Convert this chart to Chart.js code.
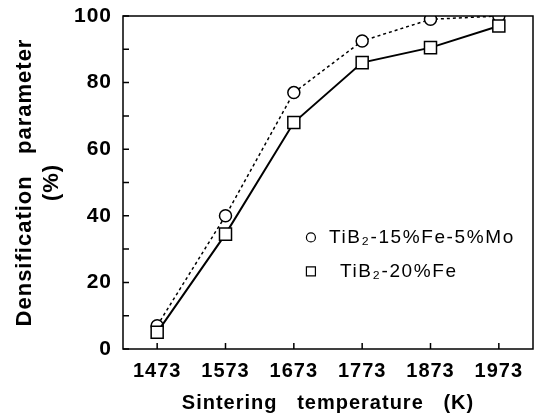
<!DOCTYPE html>
<html>
<head>
<meta charset="utf-8">
<script src="https://cdn.jsdelivr.net/npm/chart.js@4.4.1/dist/chart.umd.min.js"></script>
<style>
  html, body { margin: 0; padding: 0; background: #fff; }
  #wrap { width: 538px; height: 415px; }
</style>
</head>
<body>
<div id="wrap"><canvas id="myChart"></canvas></div>
<script>
// sintering temperature (K)
var temperatures = ['1473', '1573', '1673', '1773', '1873', '1973'];
// densification parameter (%)
var feMo = [7, 40, 77, 92.5, 99, 100];
var fe = [5, 34.5, 68, 86, 90.5, 97];
var legendLabels = ['TiB\u2082-15%Fe-5%Mo', 'TiB\u2082-20%Fe'];

var ctx = document.getElementById('myChart').getContext('2d');
var FONT = "'Liberation Sans', Arial, sans-serif";

// the old plot has rather wide lettering
var spacingPlugin = {
  id: 'spacing',
  beforeDraw: function(chart) { chart.ctx.letterSpacing = '1px'; }
};

// frame, inward ticks and the little legend inside the plot
var framePlugin = {
  id: 'frame',
  afterDatasetsDraw: function(chart) {
    var c = chart.ctx, a = chart.chartArea;
    var xs = chart.scales.x, ys = chart.scales.y;
    c.save();
    c.strokeStyle = '#000';
    c.lineWidth = 1.5;
    c.strokeRect(a.left, a.top, a.right - a.left, a.bottom - a.top);
    c.beginPath();
    ys.ticks.forEach(function(t) {
      var py = ys.getPixelForValue(t.value);
      c.moveTo(a.left, py); c.lineTo(a.left + 6, py);
    });
    xs.ticks.forEach(function(t, i) {
      var px = xs.getPixelForTick(i);
      c.moveTo(px, a.bottom); c.lineTo(px, a.bottom - 6);
    });
    c.stroke();

    // legend
    var lx = xs.getPixelForValue(2.25), ly = ys.getPixelForValue(33.5);
    c.font = '19px ' + FONT;
    c.letterSpacing = '1.6px';
    c.fillStyle = '#000';
    c.textBaseline = 'middle';
    chart.data.datasets.forEach(function(ds, i) {
      var y = ly + i * 34;
      c.lineWidth = 1.2;
      c.beginPath();
      if (ds.pointStyle === 'circle') {
        c.arc(lx, y, 4.5, 0, Math.PI * 2);
      } else {
        c.rect(lx - 4.5, y - 4.5, 9, 9);
      }
      c.stroke();
      c.fillText(ds.label, lx + (i === 0 ? 18 : 29), y);
    });
    c.restore();
  }
};

new Chart(ctx, {
  type: 'line',
  data: {
    labels: temperatures,
    datasets: [
      {
        label: legendLabels[0],
        data: feMo,
        borderColor: '#000',
        borderWidth: 1.5,
        borderDash: [3, 3],
        pointStyle: 'circle',
        pointRadius: 6,
        pointBorderWidth: 1.5,
        pointBackgroundColor: '#fff',
        pointBorderColor: '#000',
        order: 1
      },
      {
        label: legendLabels[1],
        data: fe,
        borderColor: '#000',
        borderWidth: 2,
        pointStyle: 'rect',
        pointRadius: 8.5,
        pointBorderWidth: 1.5,
        pointBackgroundColor: '#fff',
        pointBorderColor: '#000',
        order: 0
      }
    ]
  },
  options: {
    responsive: true,
    maintainAspectRatio: false,
    animation: false,
    layout: { autoPadding: false, padding: { left: 0, right: 5, top: 16, bottom: 0 } },
    plugins: {
      legend: { display: false },
      tooltip: { enabled: false }
    },
    scales: {
      x: {
        type: 'category',
        offset: true,
        grid: { display: false, drawTicks: false },
        border: { display: false },
        ticks: {
          color: '#000',
          padding: 10,
          maxRotation: 0,
          font: { family: FONT, size: 20, weight: 'bold' }
        },
        title: {
          display: true,
          text: 'Sintering   temperature   (K)',
          color: '#000',
          padding: { top: 0, bottom: 0 },
          font: { family: FONT, size: 20, weight: 'bold' }
        },
        afterFit: function(scale) {
          scale.height = 415 - 349;
          scale.paddingLeft = 0;
          scale.paddingRight = 0;
        }
      },
      y: {
        min: 0,
        max: 100,
        grid: { display: false, drawTicks: false },
        border: { display: false },
        ticks: {
          stepSize: 10,
          color: '#000',
          padding: 11,
          autoSkip: false,
          font: { family: FONT, size: 21, weight: 'bold' },
          callback: function(v) { return v % 20 === 0 ? v : ''; }
        },
        title: {
          display: true,
          text: ['Densification   parameter', '(%)'],
          color: '#000',
          padding: { top: 11, bottom: 0 },
          font: { family: FONT, size: 22, weight: 'bold', lineHeight: 1.25 }
        },
        afterFit: function(scale) {
          scale.width = 123;
          scale.paddingTop = 0;
          scale.paddingBottom = 0;
        }
      }
    }
  },
  plugins: [spacingPlugin, framePlugin]
});
</script>
</body>
</html>
